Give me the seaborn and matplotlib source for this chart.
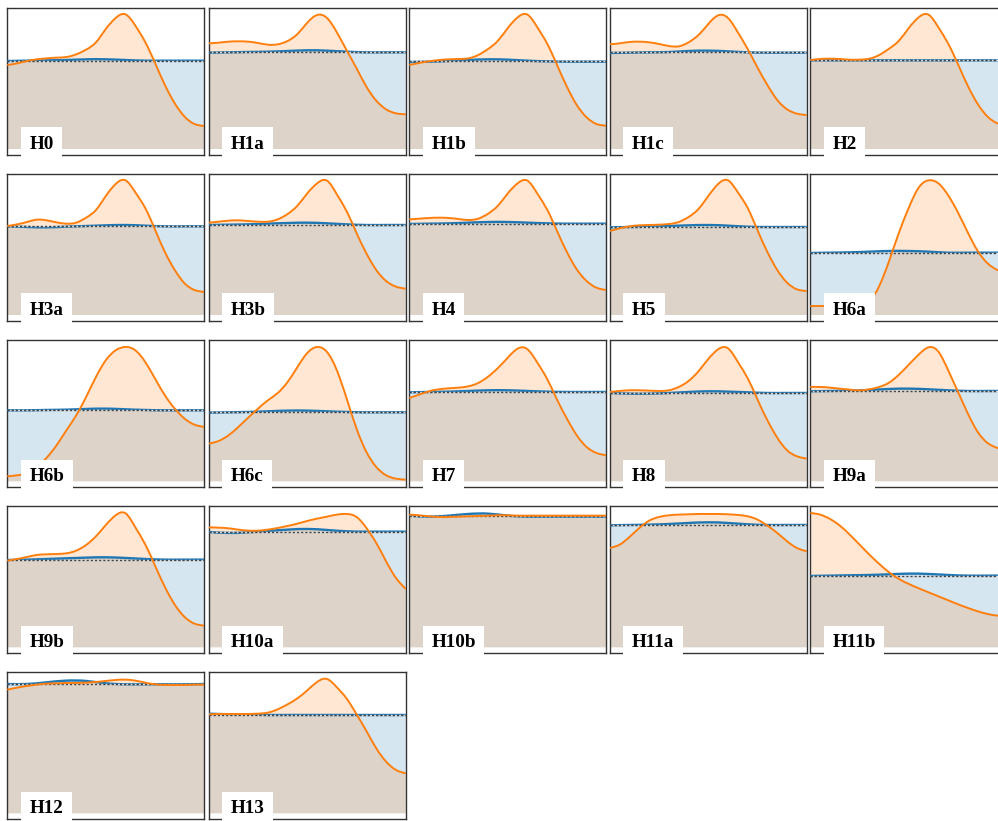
import numpy as np
import matplotlib
matplotlib.use("Agg")
import matplotlib.pyplot as plt
import seaborn as sns
from matplotlib.path import Path
from matplotlib.patches import PathPatch
import matplotlib.transforms as mtransforms

sns.set_style("white")
plt.rcParams["font.family"] = ["Liberation Serif", "DejaVu Serif"]

# ---------------- data ----------------
labels = ["H0", "H1a", "H1b", "H1c", "H2",
          "H3a", "H3b", "H4", "H5", "H6a",
          "H6b", "H6c", "H7", "H8", "H9a",
          "H9b", "H10a", "H10b", "H11a", "H11b",
          "H12", "H13"]

x_orange = [0.0, 0.05, 0.1, 0.15, 0.2, 0.25, 0.3, 0.35, 0.4, 0.45, 0.5,
            0.55, 0.6, 0.65, 0.7, 0.75, 0.8, 0.85, 0.9, 0.95, 1.0]
x_blue = [0.0, 0.1, 0.2, 0.3, 0.4, 0.5, 0.6, 0.7, 0.8, 0.9, 1.0]

orange_H0 = [252, 257, 264, 269, 272, 274, 276, 284, 298, 320, 360, 393, 404, 370, 321, 258, 192, 137, 97, 75, 69]
orange_H1a = [317, 319, 322, 323, 322, 318, 313, 314, 324, 345, 379, 402, 393, 350, 296, 242, 187, 145, 119, 107, 104]
orange_H1b = [252, 258, 263, 267, 269, 270, 272, 282, 300, 325, 363, 395, 403, 365, 316, 252, 187, 132, 95, 75, 70]
orange_H1c = [314, 317, 321, 322, 320, 315, 309, 308, 320, 342, 375, 401, 393, 350, 300, 244, 192, 147, 119, 106, 102]
orange_H2 = [267, 270, 271, 270, 268, 268, 271, 282, 301, 325, 363, 395, 403, 365, 316, 254, 189, 135, 97, 77, 69]
orange_H3a = [267, 272, 279, 286, 284, 278, 274, 277, 292, 315, 357, 393, 404, 368, 321, 256, 189, 135, 95, 75, 69]
orange_H3b = [277, 280, 283, 284, 282, 280, 280, 287, 303, 328, 365, 395, 403, 362, 311, 246, 185, 135, 102, 85, 79]
orange_H4 = [287, 289, 291, 292, 291, 288, 285, 289, 304, 328, 365, 395, 403, 364, 316, 252, 189, 137, 102, 82, 75]
orange_H5 = [252, 260, 266, 269, 270, 271, 273, 279, 294, 318, 357, 393, 404, 368, 321, 254, 189, 135, 97, 77, 72]
orange_H6a = [27, 27, 27, 27, 28, 32, 42, 87, 162, 247, 322, 382, 404, 395, 359, 307, 247, 192, 155, 135, 125]
orange_H6b = [15, 18, 25, 43, 71, 108, 153, 198, 253, 313, 363, 393, 403, 393, 358, 308, 258, 218, 188, 170, 163]
orange_H6c = [113, 121, 138, 163, 191, 218, 243, 265, 298, 343, 385, 403, 388, 333, 248, 158, 88, 43, 18, 8, 5]
orange_H7 = [250, 260, 270, 276, 279, 281, 285, 295, 314, 340, 371, 398, 396, 356, 307, 245, 188, 138, 103, 85, 78]
orange_H8 = [268, 271, 273, 273, 272, 271, 273, 283, 301, 330, 367, 396, 399, 358, 309, 245, 183, 131, 93, 75, 68]
orange_H9a = [283, 283, 281, 278, 275, 273, 276, 283, 296, 320, 350, 380, 402, 389, 333, 268, 203, 148, 115, 100, 93]
orange_H9b = [260, 265, 271, 277, 279, 280, 282, 290, 307, 333, 367, 396, 402, 360, 309, 245, 181, 128, 91, 71, 65]
orange_H10a = [360, 359, 357, 353, 350, 350, 353, 358, 364, 371, 379, 386, 392, 398, 400, 391, 358, 313, 258, 208, 175]
orange_H10b = [398, 396, 393, 391, 391, 392, 393, 394, 395, 396, 396, 395, 395, 395, 395, 395, 395, 395, 395, 395, 395]
orange_H11a = [298, 308, 331, 358, 380, 391, 396, 398, 399, 400, 400, 400, 399, 397, 393, 383, 365, 343, 318, 298, 288]
orange_H11b = [403, 398, 385, 365, 338, 308, 278, 250, 225, 205, 190, 177, 165, 153, 141, 129, 118, 108, 100, 95, 93]
orange_H12 = [371, 377, 382, 386, 389, 390, 391, 391, 392, 394, 397, 400, 401, 398, 392, 387, 385, 385, 385, 386, 386]
orange_H13 = [297, 298, 298, 298, 298, 299, 302, 312, 327, 345, 369, 394, 403, 378, 344, 297, 247, 195, 155, 130, 120]

blue_H0 = [264, 265, 266, 267, 269, 269, 267, 265, 265, 265, 265]
blue_H1a = [289, 290, 291, 292, 294, 296, 295, 292, 290, 290, 290]
blue_H1b = [261, 262, 264, 267, 269, 268, 265, 263, 262, 262, 262]
blue_H1c = [288, 289, 290, 291, 294, 295, 293, 290, 289, 289, 289]
blue_H2 = [266, 266, 266, 266, 266, 266, 266, 266, 266, 266, 266]
blue_H3a = [266, 264, 263, 265, 267, 269, 270, 268, 266, 266, 266]
blue_H3b = [270, 271, 272, 274, 276, 277, 275, 272, 270, 270, 270]
blue_H4 = [273, 274, 275, 277, 279, 279, 277, 275, 274, 274, 274]
blue_H5 = [263, 264, 265, 267, 269, 270, 268, 265, 264, 264, 264]
blue_H6a = [186, 187, 188, 190, 192, 192, 190, 187, 187, 187, 187]
blue_H6b = [213, 213, 214, 215, 217, 218, 216, 214, 213, 213, 213]
blue_H6c = [206, 207, 208, 210, 212, 212, 210, 208, 207, 207, 207]
blue_H7 = [267, 268, 269, 271, 273, 273, 271, 269, 268, 268, 268]
blue_H8 = [265, 263, 263, 265, 268, 270, 269, 267, 265, 265, 265]
blue_H9a = [270, 271, 272, 274, 277, 278, 276, 273, 271, 271, 271]
blue_H9b = [262, 263, 265, 267, 269, 270, 268, 265, 263, 263, 263]
blue_H10a = [346, 343, 345, 349, 353, 355, 352, 348, 347, 347, 347]
blue_H10b = [395, 392, 395, 400, 401, 395, 392, 392, 392, 392, 392]
blue_H11a = [366, 367, 368, 370, 373, 375, 373, 369, 367, 367, 367]
blue_H11b = [214, 215, 216, 217, 219, 221, 220, 217, 215, 215, 215]
blue_H12 = [388, 388, 393, 398, 397, 390, 387, 387, 387, 387, 388]
blue_H13 = [299, 297, 296, 295, 295, 295, 295, 295, 295, 295, 295]

reference_level = [265, 290, 264, 290, 266, 266, 270, 274, 264, 187, 214, 208,
                   267, 265, 271, 263, 347, 393, 367, 215, 389, 295]

orange_series = [orange_H0, orange_H1a, orange_H1b, orange_H1c, orange_H2,
                 orange_H3a, orange_H3b, orange_H4, orange_H5, orange_H6a,
                 orange_H6b, orange_H6c, orange_H7, orange_H8, orange_H9a,
                 orange_H9b, orange_H10a, orange_H10b, orange_H11a, orange_H11b,
                 orange_H12, orange_H13]
blue_series = [blue_H0, blue_H1a, blue_H1b, blue_H1c, blue_H2,
               blue_H3a, blue_H3b, blue_H4, blue_H5, blue_H6a,
               blue_H6b, blue_H6c, blue_H7, blue_H8, blue_H9a,
               blue_H9b, blue_H10a, blue_H10b, blue_H11a, blue_H11b,
               blue_H12, blue_H13]

BLUE = sns.color_palette("tab10")[0]
ORANGE = sns.color_palette("tab10")[1]


def smooth_path(xs, ys, close_to=None):
    """Smooth (natural cubic spline) curve through the points, drawn as Bezier segments."""
    x = np.asarray(xs, float)
    y = np.asarray(ys, float)
    n = len(x)
    h = np.diff(x)
    A = np.zeros((n, n))
    b = np.zeros(n)
    A[0, 0] = 1.0
    A[-1, -1] = 1.0
    for i in range(1, n - 1):
        A[i, i - 1] = h[i - 1]
        A[i, i] = 2 * (h[i - 1] + h[i])
        A[i, i + 1] = h[i]
        b[i] = 6 * ((y[i + 1] - y[i]) / h[i] - (y[i] - y[i - 1]) / h[i - 1])
    M = np.linalg.solve(A, b)
    m = np.zeros(n)
    for i in range(n - 1):
        m[i] = (y[i + 1] - y[i]) / h[i] - h[i] * (2 * M[i] + M[i + 1]) / 6
    m[-1] = (y[-1] - y[-2]) / h[-1] + h[-1] * (M[-2] + 2 * M[-1]) / 6

    verts = [(x[0], y[0])]
    codes = [Path.MOVETO]
    for i in range(n - 1):
        d = h[i] / 3
        verts += [(x[i] + d, y[i] + m[i] * d),
                  (x[i + 1] - d, y[i + 1] - m[i + 1] * d),
                  (x[i + 1], y[i + 1])]
        codes += [Path.CURVE4] * 3
    if close_to is not None:
        verts += [(x[-1], close_to), (x[0], close_to), (x[0], y[0])]
        codes += [Path.LINETO, Path.LINETO, Path.CLOSEPOLY]
    return Path(np.array(verts), codes)


W, H = 998, 821
fig = plt.figure(figsize=(W / 100, H / 100), dpi=100)
fig.patch.set_facecolor("white")

lefts_px = [7.3, 208.8, 409.3, 609.8, 810.3]
tops_px = [8, 174, 340.3, 506.3, 672.3]
aw, ah = 197, 147

for k, name in enumerate(labels):
    r, c = divmod(k, 5)
    ax = fig.add_axes([lefts_px[c] / W, 1 - (tops_px[r] + ah) / H, aw / W, ah / H])
    ax.set_facecolor("white")
    for sp in ax.spines.values():
        sp.set_visible(True)
        sp.set_color("#333333")
        sp.set_linewidth(1.0)

    bx, by = x_blue, blue_series[k]
    ox, oy = x_orange, orange_series[k]

    ax.add_patch(PathPatch(smooth_path(bx, by, close_to=0), facecolor=BLUE,
                           alpha=0.18, edgecolor="none", zorder=1))
    ax.add_patch(PathPatch(smooth_path(ox, oy, close_to=0), facecolor=ORANGE,
                           alpha=0.18, edgecolor="none", zorder=1.1))
    ax.add_patch(PathPatch(smooth_path(bx, by), facecolor="none",
                           edgecolor=BLUE, lw=1.7, zorder=3))
    sns.lineplot(x=[0, 1], y=[reference_level[k]] * 2, ax=ax, color="#444444",
                 lw=1.0, dashes=(1.5, 1.5), zorder=3.5, legend=False)
    ax.lines[-1].set_gapcolor("#d8d8d8")
    ax.add_patch(PathPatch(smooth_path(ox, oy), facecolor="none",
                           edgecolor=ORANGE, lw=1.4, zorder=4))
    ax.set_xlim(0, 1)
    ax.set_ylim(-18, 423)
    ax.set_xticks([])
    ax.set_yticks([])
    ax.set_xlabel("")
    ax.set_ylabel("")

    trans = mtransforms.blended_transform_factory(ax.transAxes, ax.transData)
    ax.text(0.112, 0, name, transform=trans, ha="left", va="baseline",
            fontsize=13.8, fontweight="bold", color="black",
            family=["Liberation Serif", "DejaVu Serif"],
            bbox=dict(boxstyle="square,pad=0.45", facecolor="white", edgecolor="none"),
            zorder=10, clip_on=False)

fig.savefig("out.png", dpi=100, facecolor="white")
